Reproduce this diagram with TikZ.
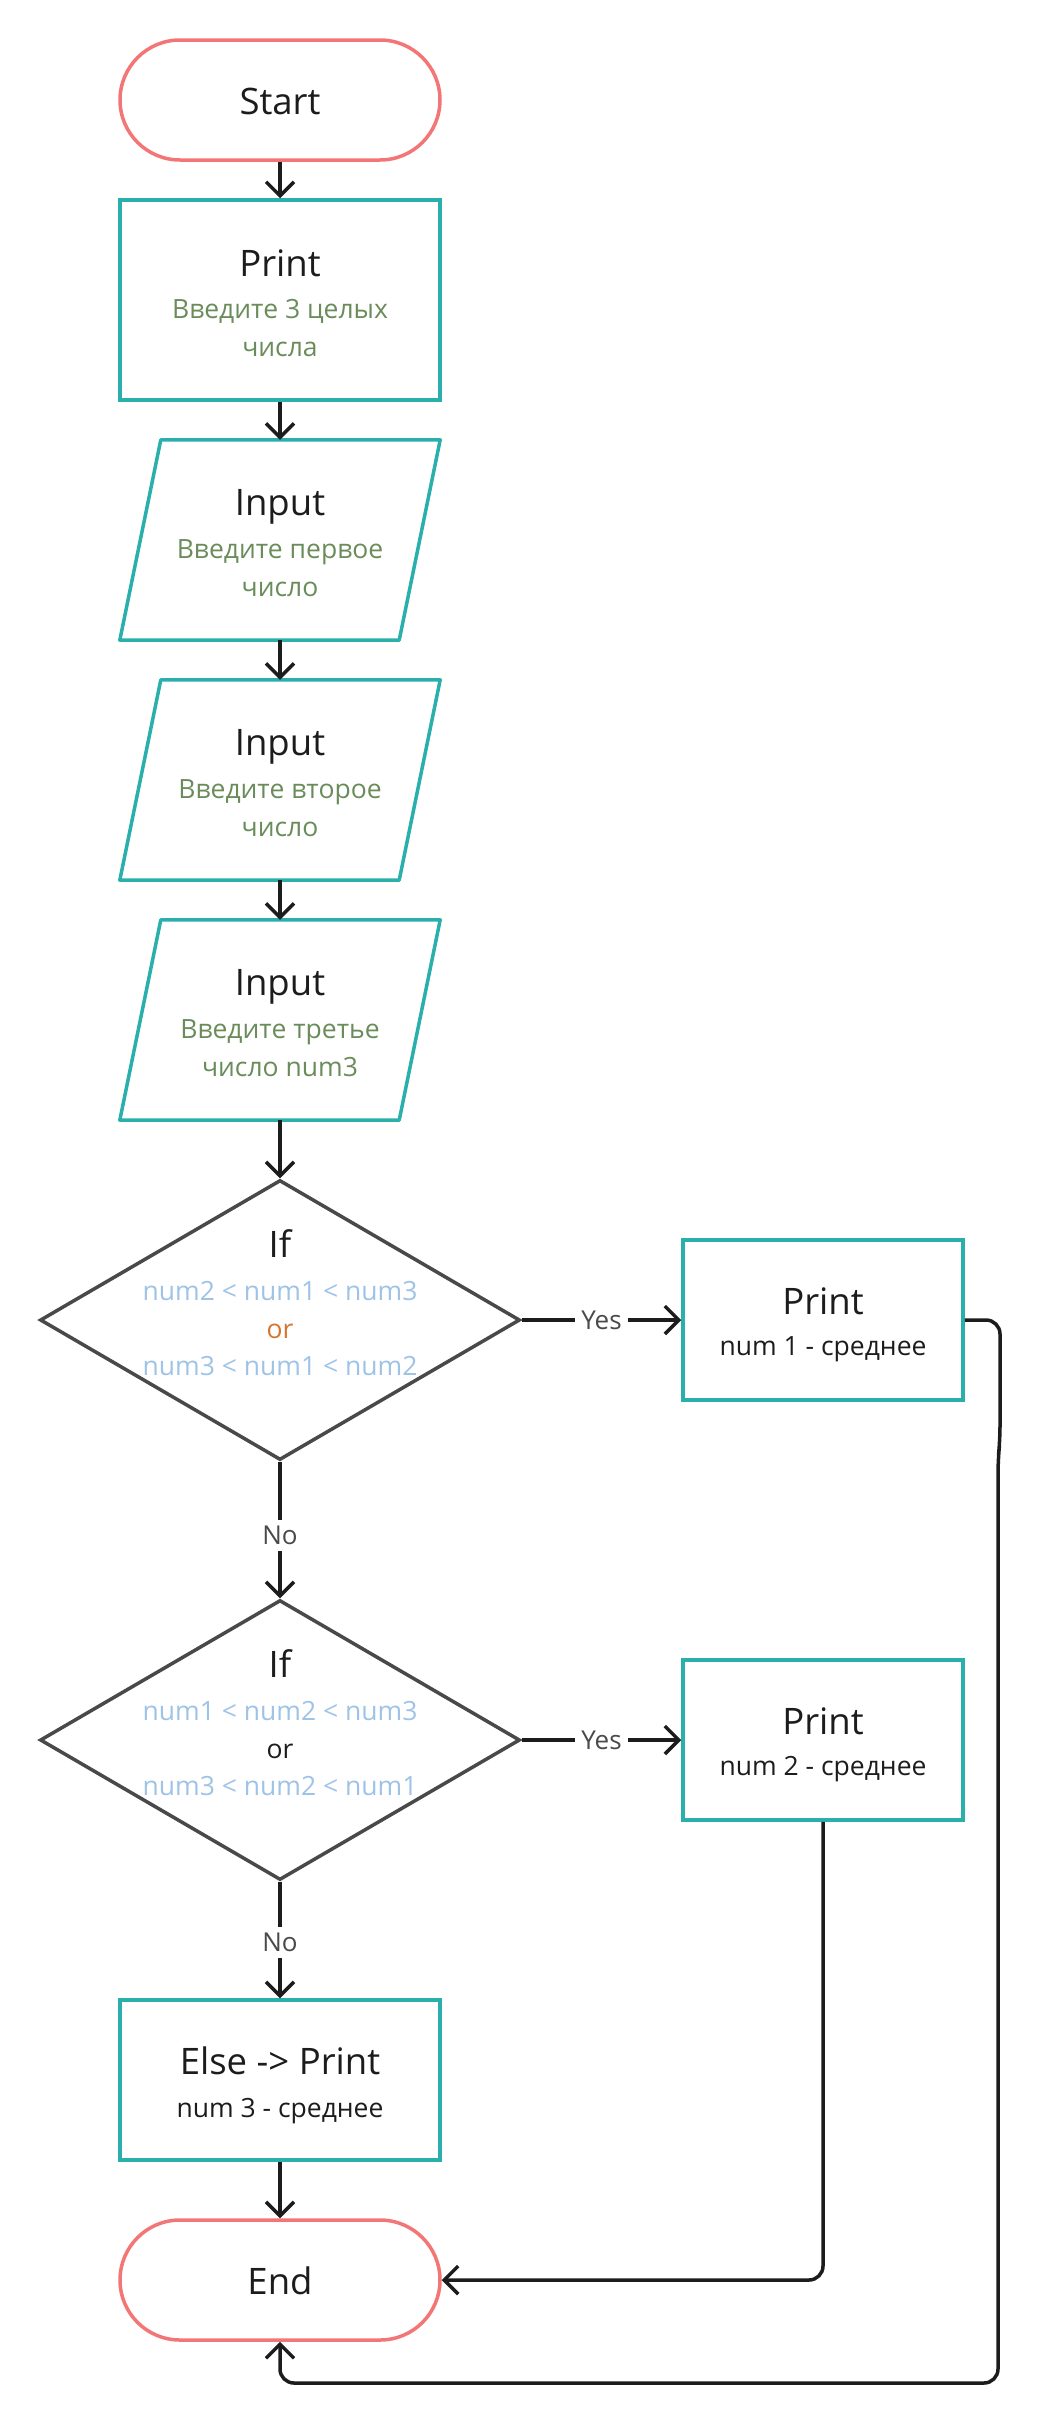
\documentclass[tikz,border=0pt]{standalone}
\usepackage{fontspec}
\setmainfont{Open Sans}
\usetikzlibrary{arrows.meta,shapes.geometric,calc}
\definecolor{teal1}{HTML}{2AAFAD}
\definecolor{pink1}{HTML}{F47575}
\definecolor{gray1}{HTML}{494949}
\definecolor{green1}{HTML}{6A8C5A}
\definecolor{blue1}{HTML}{9FC3E6}
\definecolor{orange1}{HTML}{D47531}
\definecolor{ink}{HTML}{1C1C1C}
\definecolor{lblgray}{HTML}{4A4A4A}
\begin{document}
\begin{tikzpicture}[x=1pt,y=-1pt,
  term/.style={draw=pink1,line width=3.5pt,rounded corners=60pt,minimum width=320pt,minimum height=120pt,inner sep=0pt},
  proc/.style={draw=teal1,line width=3.5pt,minimum width=320pt,minimum height=200pt,inner sep=0pt},
  sidebox/.style={draw=teal1,line width=3.5pt,minimum width=280pt,minimum height=160pt,inner sep=0pt},
  iobox/.style={minimum width=320pt,minimum height=200pt,inner sep=0pt},
  iopath/.style={draw=teal1,line width=3.5pt,line join=round},
  decision/.style={diamond,draw=gray1,line width=3.5pt,minimum width=480pt,minimum height=280pt,inner sep=0pt},
  ttl/.style={anchor=base,font=\fontsize{36.5}{44}\selectfont,text=ink,inner sep=0pt},
  subt/.style={anchor=base,font=\fontsize{26.5}{32}\selectfont,inner sep=0pt},
  arr/.style={draw=ink,line width=3.5pt,-{Straight Barb[length=14pt,width=28pt]}},
  lbl/.style={font=\fontsize{26}{30}\selectfont,text=lblgray,fill=white,inner sep=6pt},
]
\useasboundingbox (0,0) rectangle (1040,2420);

% main column shapes
\node[term] (start) at (280,100) {};
\node[ttl] (startt) at (280,114) {Start};

\node[proc] (pr) at (280,300) {};
\node[ttl] (prt) at (280,276) {Print};
\node[subt,text=green1] (prs1) at (280,318) {Введите 3 целых};
\node[subt,text=green1] (prs2) at (280,356) {числа};

\node[iobox] (in1) at (280,540) {};
\draw[iopath] ($(in1.north west)+(41,0)$) -- (in1.north east) -- ($(in1.south east)+(-41,0)$) -- (in1.south west) -- cycle;
\node[ttl] (in1t) at (280,515) {Input};
\node[subt,text=green1] (in1s1) at (280,558) {Введите первое};
\node[subt,text=green1] (in1s2) at (280,596) {число};

\node[iobox] (in2) at (280,780) {};
\draw[iopath] ($(in2.north west)+(41,0)$) -- (in2.north east) -- ($(in2.south east)+(-41,0)$) -- (in2.south west) -- cycle;
\node[ttl] (in2t) at (280,755) {Input};
\node[subt,text=green1] (in2s1) at (280,798) {Введите второе};
\node[subt,text=green1] (in2s2) at (280,836) {число};

\node[iobox] (in3) at (280,1020) {};
\draw[iopath] ($(in3.north west)+(41,0)$) -- (in3.north east) -- ($(in3.south east)+(-41,0)$) -- (in3.south west) -- cycle;
\node[ttl] (in3t) at (280,995) {Input};
\node[subt,text=green1] (in3s1) at (280,1038) {Введите третье};
\node[subt,text=green1] (in3s2) at (280,1076) {число num3};

\node[decision] (d1) at (280,1320) {};
\node[ttl] (d1t) at (280,1257) {If};
\node[subt,text=blue1] (d1s1) at (280,1300) {num2 < num1 < num3};
\node[subt,text=orange1] (d1s2) at (280,1338) {or};
\node[subt,text=blue1] (d1s3) at (280,1375) {num3 < num1 < num2};

\node[sidebox] (p1) at (823,1320) {};
\node[ttl] (p1t) at (823,1314) {Print};
\node[subt,text=ink] (p1s) at (823,1355) {num 1 - среднее};

\node[decision] (d2) at (280,1740) {};
\node[ttl] (d2t) at (280,1677) {If};
\node[subt,text=blue1] (d2s1) at (280,1720) {num1 < num2 < num3};
\node[subt,text=ink] (d2s2) at (280,1758) {or};
\node[subt,text=blue1] (d2s3) at (280,1795) {num3 < num2 < num1};

\node[sidebox] (p2) at (823,1740) {};
\node[ttl] (p2t) at (823,1734) {Print};
\node[subt,text=ink] (p2s) at (823,1775) {num 2 - среднее};

\node[proc,minimum height=160pt] (els) at (280,2080) {};
\node[ttl] (elst) at (280,2074) {Else -> Print};
\node[subt,text=ink] (elss) at (280,2117) {num 3 - среднее};

\node[term] (fin) at (280,2280) {};
\node[ttl] (fint) at (280,2294) {End};

% connectors
\draw[arr] (start.south) -- (pr.north);
\draw[arr] (pr.south) -- (in1.north);
\draw[arr] (in1.south) -- (in2.north);
\draw[arr] (in2.south) -- (in3.north);
\draw[arr] (in3.south) -- (d1.north);
\draw[arr] (d1.east) -- node[lbl] (yes1) {Yes} (p1.west);
\draw[arr] (d1.south) -- node[lbl,pos=0.54] (no1) {No} (d2.north);
\draw[arr] (d2.east) -- node[lbl] (yes2) {Yes} (p2.west);
\draw[arr] (d2.south) -- node[lbl,pos=0.52] (no2) {No} (els.north);
\draw[arr] (els.south) -- (fin.north);
\draw[arr,rounded corners=14pt] (p2.south) |- (fin.east);
\coordinate (r1) at (1000,1320);
\coordinate (r2) at (1000,1440);
\coordinate (r3) at (998,1460);
\coordinate (r4) at (998,2383);
\coordinate (r5) at (280,2383);
\draw[arr,rounded corners=14pt] (p1.east) -- (r1) -- (r2) -- (r3) -- (r4) -- (r5) -- (fin.south);
\end{tikzpicture}
\end{document}
